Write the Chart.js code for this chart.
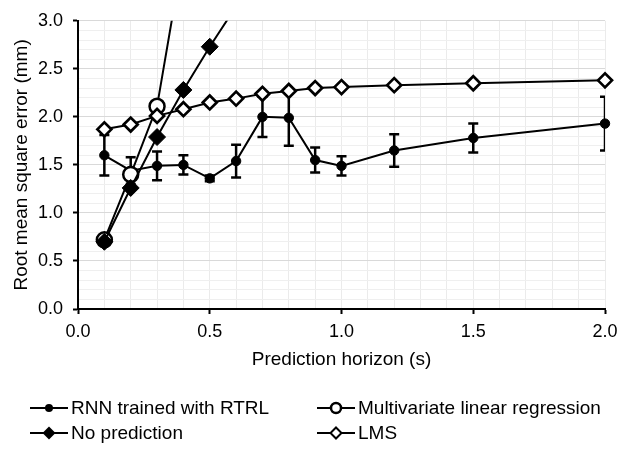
<!DOCTYPE html>
<html>
<head>
<meta charset="utf-8">
<script src="https://cdn.jsdelivr.net/npm/chart.js@4.4.1/dist/chart.umd.min.js"></script>
<style>
    body { margin: 0; background: #fff; }
    #wrap { position: relative; width: 630px; height: 459px; }
    .legend-item {
        position: absolute;
        display: flex;
        align-items: center;
        height: 24px;
        font: 19px "Liberation Sans", Arial, sans-serif;
        color: #000;
        white-space: nowrap;
    }
    .legend-item svg { margin-right: 3px; }
</style>
</head>
<body>
<div id="wrap">
    <canvas id="rmse-chart" width="630" height="459"></canvas>
    <div id="legend"></div>
</div>
<script>
// prediction horizons (s)
const horizons = [0.1, 0.2, 0.3, 0.4, 0.5, 0.6, 0.7, 0.8, 0.9, 1.0, 1.2, 1.5, 2.0];
// RNN trained with RTRL, with +/- error
const rnnRmse = [1.60, 1.44, 1.49, 1.50, 1.36, 1.54, 2.00, 1.99, 1.55, 1.49, 1.65, 1.78, 1.93];
const rnnErr = [0.21, 0.14, 0.15, 0.10, 0.03, 0.17, 0.21, 0.29, 0.13, 0.10, 0.17, 0.15, 0.28];
// Multivariate linear regression (goes off the top)
const mlrHorizons = [0.1, 0.2, 0.3, 0.4];
const mlrRmse = [0.72, 1.40, 2.11, 3.71];
// No prediction (goes off the top)
const noPredHorizons = [0.1, 0.2, 0.3, 0.4, 0.5, 0.6];
const noPredRmse = [0.70, 1.26, 1.79, 2.28, 2.73, 3.15];
// LMS
const lmsRmse = [1.87, 1.92, 2.01, 2.08, 2.15, 2.19, 2.24, 2.27, 2.30, 2.31, 2.33, 2.35, 2.38];

const seriesNames = ['RNN trained with RTRL', 'Multivariate linear regression', 'No prediction', 'LMS'];

const FONT = '"Liberation Sans", Arial, sans-serif';

function toPoints(xs, ys) {
    return xs.map((x, i) => ({ x: x, y: ys[i] }));
}

function isMajor(v) {
    return Math.abs(v * 2 - Math.round(v * 2)) < 1e-6;
}

// error bars for the RNN series, drawn under its line and markers
const errorBars = {
    id: 'errorBars',
    beforeDatasetDraw(chart, args) {
        if (args.index !== 0) return;
        const ctx = chart.ctx;
        const xs = chart.scales.x;
        const ys = chart.scales.y;
        const area = chart.chartArea;
        ctx.save();
        ctx.beginPath();
        ctx.rect(area.left, area.top, area.right - area.left, area.bottom - area.top);
        ctx.clip();
        ctx.strokeStyle = '#000';
        ctx.lineWidth = 2.5;
        horizons.forEach((h, i) => {
            const px = xs.getPixelForValue(h);
            const top = ys.getPixelForValue(rnnRmse[i] + rnnErr[i]);
            const bot = ys.getPixelForValue(rnnRmse[i] - rnnErr[i]);
            ctx.beginPath();
            ctx.moveTo(px, top); ctx.lineTo(px, bot);
            ctx.moveTo(px - 5, top); ctx.lineTo(px + 5, top);
            ctx.moveTo(px - 5, bot); ctx.lineTo(px + 5, bot);
            ctx.stroke();
        });
        ctx.restore();
    }
};

const markerClip = { left: 12, right: 12, top: 0, bottom: 12 };

const chartData = {
    datasets: [{
        label: seriesNames[0],
        data: toPoints(horizons, rnnRmse),
        borderColor: '#000',
        borderWidth: 2,
        pointStyle: 'circle',
        pointRadius: 4.7,
        pointBackgroundColor: '#000',
        pointBorderColor: '#000',
        pointBorderWidth: 1,
        clip: markerClip,
        order: 3
    }, {
        label: seriesNames[1],
        data: toPoints(mlrHorizons, mlrRmse),
        borderColor: '#000',
        borderWidth: 2,
        pointStyle: 'circle',
        pointRadius: 7.5,
        pointBackgroundColor: '#fff',
        pointBorderColor: '#000',
        pointBorderWidth: 2.5,
        clip: markerClip,
        order: 2
    }, {
        label: seriesNames[2],
        data: toPoints(noPredHorizons, noPredRmse),
        borderColor: '#000',
        borderWidth: 2,
        pointStyle: 'rectRot',
        pointRadius: 8.5,
        pointBackgroundColor: '#000',
        pointBorderColor: '#000',
        pointBorderWidth: 1,
        clip: markerClip,
        order: 1
    }, {
        label: seriesNames[3],
        data: toPoints(horizons, lmsRmse),
        borderColor: '#000',
        borderWidth: 2,
        pointStyle: 'rectRot',
        pointRadius: 7,
        pointBackgroundColor: '#fff',
        pointBorderColor: '#000',
        pointBorderWidth: 2.7,
        clip: markerClip,
        order: 0
    }]
};

const options = {
    responsive: false,
    maintainAspectRatio: false,
    animation: false,
    devicePixelRatio: 1,
    layout: { padding: { top: 19, right: 25, bottom: 84, left: 0 } },
    plugins: {
        legend: { display: false },
        tooltip: { enabled: false }
    },
    scales: {
        x: {
            type: 'linear',
            min: 0,
            max: 2,
            ticks: {
                stepSize: 0.1,
                autoSkip: false,
                maxRotation: 0,
                padding: 7,
                color: '#000',
                font: { family: FONT, size: 18 },
                callback: v => isMajor(v) ? v.toFixed(1) : ''
            },
            grid: {
                color: '#ebebeb',
                lineWidth: 1,
                tickLength: 5,
                tickWidth: 2,
                tickColor: c => (c.tick && isMajor(c.tick.value)) ? '#000' : 'rgba(0,0,0,0)'
            },
            border: { color: '#000', width: 2 },
            title: {
                display: true,
                text: 'Prediction horizon (s)',
                color: '#000',
                font: { family: FONT, size: 19 },
                padding: { top: 4, bottom: 4 }
            },
            afterFit: s => { s.height = 66; }
        },
        y: {
            min: 0,
            max: 3,
            ticks: {
                stepSize: 0.1,
                autoSkip: false,
                padding: 10,
                color: '#000',
                font: { family: FONT, size: 18 },
                callback: v => isMajor(v) ? v.toFixed(1) : ''
            },
            grid: {
                color: c => (c.tick && isMajor(c.tick.value)) ? '#d9d9d9' : '#efefef',
                lineWidth: 1,
                tickLength: 5,
                tickWidth: 2,
                tickColor: c => (c.tick && isMajor(c.tick.value)) ? '#000' : 'rgba(0,0,0,0)'
            },
            border: { color: '#000', width: 2 },
            title: {
                display: true,
                text: 'Root mean square error (mm)',
                color: '#000',
                font: { family: FONT, size: 19 },
                padding: { top: 10, bottom: 0 }
            },
            afterFit: s => { s.width = 78; }
        }
    }
};

new Chart(document.getElementById('rmse-chart').getContext('2d'), {
    type: 'line',
    data: chartData,
    options: options,
    plugins: [errorBars]
});

// legend: two columns, two rows, line with marker in the middle
const markerSvg = [
    '<circle cx="19" cy="12" r="4" fill="#000"/>',
    '<circle cx="19" cy="12" r="5" fill="#fff" stroke="#000" stroke-width="2.5"/>',
    '<polygon points="19,5.5 25.5,12 19,18.5 12.5,12" fill="#000"/>',
    '<polygon points="19,6.5 24.5,12 19,17.5 13.5,12" fill="#fff" stroke="#000" stroke-width="2"/>'
];
const legendPos = [[30, 408], [317, 408], [30, 433], [317, 433]];
const legendBox = document.getElementById('legend');
seriesNames.forEach((name, i) => {
    const item = document.createElement('div');
    item.className = 'legend-item';
    item.style.left = legendPos[i][0] + 'px';
    item.style.top = (legendPos[i][1] - 12) + 'px';
    item.innerHTML = '<svg width="38" height="24"><line x1="0" y1="12" x2="38" y2="12" stroke="#000" stroke-width="2"/>' +
        markerSvg[i] + '</svg><span></span>';
    item.querySelector('span').textContent = name;
    legendBox.appendChild(item);
});
</script>
</body>
</html>
